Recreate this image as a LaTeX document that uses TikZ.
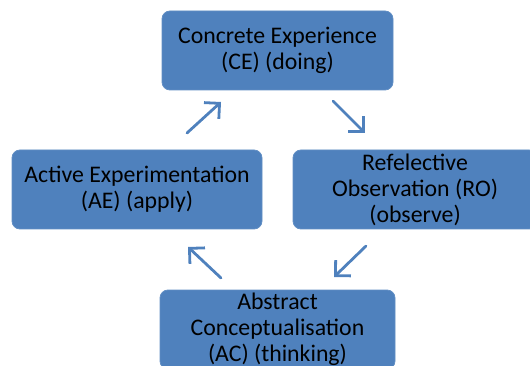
\documentclass[tikz,border=0pt]{standalone}
\usepackage{fontspec}
\setmainfont{Carlito}
\usetikzlibrary{positioning, arrows.meta}
\definecolor{boxblue}{HTML}{4F81BD}
\definecolor{arrowblue}{HTML}{4F81BD}
\tikzset{
  stage/.style={rounded corners=8pt, draw=boxblue!90!white, line width=0.8pt,
                fill=boxblue, align=center, text=black,
                font=\fontsize{23.8}{26}\selectfont,
                minimum height=79pt, inner sep=0pt},
  cyc/.style={-{Straight Barb[length=11pt, width=22pt, line width=2.8pt]},
              line width=2.8pt, draw=arrowblue, line cap=round},
}
\begin{document}
\begin{tikzpicture}[x=1pt, y=-1pt]
  \useasboundingbox (0,0) rectangle (530,366);
  \clip (0,0) rectangle (530,366);
  \node[stage, minimum width=231pt] (ce) at (277.5,50.5)
        {Concrete Experience\\(CE) (doing)};
  \node[stage, minimum width=250pt] (ae) at (137,189.5)
        {Active Experimentation\\(AE) (apply)};
  \node[stage, minimum width=244pt] (ro) at (415,189.5)
        {Refelective\\Observation (RO)\\(observe)};
  \node[stage, minimum width=235pt] (ac) at (277.5,329.5)
        {Abstract\\Conceptualisation\\(AC) (thinking)};
  % arrows round the cycle
  \coordinate (a1) at (187,133);  \coordinate (b1) at (221,102);
  \coordinate (a2) at (333,101);  \coordinate (b2) at (365,133);
  \coordinate (a3) at (366,246);  \coordinate (b3) at (334,277);
  \coordinate (a4) at (221,278);  \coordinate (b4) at (188,247);
  \draw[cyc] (a1) -- (b1);
  \draw[cyc] (a2) -- (b2);
  \draw[cyc] (a3) -- (b3);
  \draw[cyc] (a4) -- (b4);
\end{tikzpicture}
\end{document}
